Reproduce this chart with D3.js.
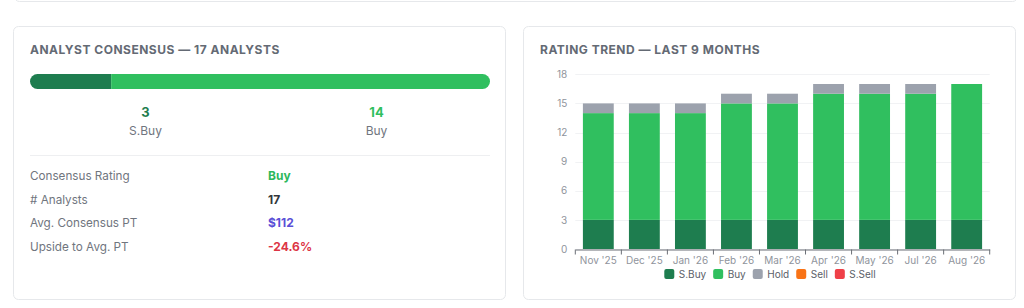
<!doctype html>
<html>
<head>
    <style>
        body { margin: 0; background: #ffffff; }
        svg text { font-family: Inter, "Noto Sans", sans-serif; }
        .card { fill: #ffffff; stroke: #e6e8eb; stroke-width: 1; }
        .title { font-size: 12px; font-weight: 700; fill: #646a74; letter-spacing: 0.5px; }
        .axis text { font-size: 10px; fill: #8f949c; }
        .axis path, .axis line { stroke: #6b6f76; }
    </style>
    <script src="https://d3js.org/d3.v7.min.js"></script>
</head>
<body>
<script>

    // consensus card
    var consensusLabels = ["S.Buy", "Buy"];
    var consensusCounts = [3, 14];
    var statLabels = ["Consensus Rating", "# Analysts", "Avg. Consensus PT", "Upside to Avg. PT"];
    var statValues = ["Buy", "17", "$112", "-24.6%"];

    // trend chart
    var months = ["Nov '25", "Dec '25", "Jan '26", "Feb '26", "Mar '26", "Apr '26", "May '26", "Jul '26", "Aug '26"];
    var ratingNames = ["S.Buy", "Buy", "Hold", "Sell", "S.Sell"];
    var sBuy  = [3, 3, 3, 3, 3, 3, 3, 3, 3];
    var buy   = [11, 11, 11, 12, 12, 13, 13, 13, 14];
    var hold  = [1, 1, 1, 1, 1, 1, 1, 1, 0];
    var sell  = [0, 0, 0, 0, 0, 0, 0, 0, 0];
    var sSell = [0, 0, 0, 0, 0, 0, 0, 0, 0];
    var yTicks = [0, 3, 6, 9, 12, 15, 18];

    var colors = {"S.Buy": "#1e7d4f", "Buy": "#30bf5f", "Hold": "#9ca2ad", "Sell": "#f97316", "S.Sell": "#ef4048"};

    var svg = d3.select("body").append("svg")
        .attr("width", 1024)
        .attr("height", 308);

    // cards
    svg.append("rect").attr("class", "card").attr("x", 14.5).attr("y", -20).attr("width", 1003).attr("height", 21.5).attr("rx", 5);
    svg.append("rect").attr("class", "card").attr("x", 13.5).attr("y", 26.5).attr("width", 492).attr("height", 273).attr("rx", 5);
    svg.append("rect").attr("class", "card").attr("x", 523.5).attr("y", 26.5).attr("width", 492).attr("height", 273).attr("rx", 5);

    // ---------- left card ----------
    var left = svg.append("g");
    left.append("text").attr("class", "title").attr("x", 30).attr("y", 54)
        .text("ANALYST CONSENSUS — 17 ANALYSTS");

    var total = d3.sum(consensusCounts);
    var bx = d3.scaleLinear().domain([0, total]).range([30, 490]);
    var starts = [0];
    consensusCounts.forEach(function (d, i) { starts.push(starts[i] + d); });

    left.append("clipPath").attr("id", "barclip")
        .append("rect").attr("x", bx(0)).attr("y", 74).attr("width", bx(total) - bx(0)).attr("height", 15).attr("rx", 7.5);

    left.append("g").attr("clip-path", "url(#barclip)")
        .selectAll("rect")
        .data(consensusCounts)
        .enter().append("rect")
        .attr("x", function (d, i) { return bx(starts[i]); })
        .attr("y", 74)
        .attr("width", function (d) { return bx(d) - bx(0); })
        .attr("height", 15)
        .attr("fill", function (d, i) { return colors[consensusLabels[i]]; });

    var colX = d3.scaleBand().domain(consensusLabels).range([30, 492]);
    var cols = left.selectAll(".col").data(consensusLabels).enter().append("g")
        .attr("transform", function (d) { return "translate(" + (colX(d) + colX.bandwidth() / 2) + ",0)"; });
    cols.append("text").attr("y", 117).attr("text-anchor", "middle")
        .style("font-size", "13px").style("font-weight", 700)
        .attr("fill", function (d) { return d === "S.Buy" ? "#1e7d4f" : "#30bf5f"; })
        .text(function (d, i) { return consensusCounts[i]; });
    cols.append("text").attr("y", 135).attr("text-anchor", "middle")
        .style("font-size", "12px").attr("fill", "#70757e")
        .text(function (d) { return d; });

    left.append("line").attr("x1", 30).attr("x2", 490).attr("y1", 155.5).attr("y2", 155.5)
        .attr("stroke", "#eeeff1");

    var valueColors = ["#2eb85c", "#33363b", "#5a4fd6", "#dc3545"];
    var rows = left.selectAll(".row").data(statLabels).enter().append("g")
        .attr("transform", function (d, i) { return "translate(0," + (180 + i * 23.5) + ")"; });
    rows.append("text").attr("x", 30).style("font-size", "11.7px").attr("fill", "#70757e")
        .text(function (d) { return d; });
    rows.append("text").attr("x", 268).style("font-size", "12px").style("font-weight", 700)
        .attr("fill", function (d, i) { return valueColors[i]; })
        .text(function (d, i) { return statValues[i]; });

    // ---------- right card ----------
    var right = svg.append("g");
    right.append("text").attr("class", "title").attr("x", 540).attr("y", 54)
        .text("RATING TREND — LAST 9 MONTHS");

    var x = d3.scaleBand().domain(months).range([575.3, 989.7]).paddingInner(0.33).paddingOuter(0.165);
    var y = d3.scaleLinear().domain([0, 18]).range([249, 74.3]);

    right.append("g").selectAll("line").data(yTicks).enter().append("line")
        .attr("x1", 575.3).attr("x2", 989.7)
        .attr("y1", function (d) { return Math.round(y(d)) + 0.5; })
        .attr("y2", function (d) { return Math.round(y(d)) + 0.5; })
        .attr("stroke", "#f1f2f4");

    var table = months.map(function (m, i) {
        return {month: m, "S.Buy": sBuy[i], "Buy": buy[i], "Hold": hold[i], "Sell": sell[i], "S.Sell": sSell[i]};
    });
    var stacked = d3.stack().keys(ratingNames)(table);

    right.append("g").selectAll("g").data(stacked).enter().append("g")
        .attr("fill", function (d) { return colors[d.key]; })
        .selectAll("rect")
        .data(function (d) { return d; })
        .enter().append("rect")
        .attr("x", function (d) { return x(d.data.month); })
        .attr("y", function (d) { return y(d[1]); })
        .attr("width", x.bandwidth())
        .attr("height", function (d) { return y(d[0]) - y(d[1]); });

    var yAxis = right.append("g").attr("class", "axis")
        .attr("transform", "translate(575.3,0)")
        .call(d3.axisLeft(y).tickValues(yTicks).tickSize(0).tickPadding(8));
    yAxis.select(".domain").remove();

    var xAxis = right.append("g").attr("class", "axis")
        .attr("transform", "translate(0,249.5)")
        .call(d3.axisBottom(x).tickSize(0).tickPadding(7).tickSizeOuter(0));
    xAxis.selectAll(".tick line").remove();

    // tick marks at category boundaries
    var edges = d3.range(months.length + 1).map(function (i) { return x.range()[0] + i * x.step(); });
    right.append("g").selectAll("line").data(edges).enter().append("line")
        .attr("x1", function (d) { return d; }).attr("x2", function (d) { return d; })
        .attr("y1", 249.5).attr("y2", 254.5)
        .attr("stroke", "#6b6f76");

    // legend
    var legend = right.append("g").attr("transform", "translate(0,274)");
    var items = legend.selectAll("g").data(ratingNames).enter().append("g");
    items.append("rect").attr("y", -5).attr("width", 10).attr("height", 10).attr("rx", 2)
        .attr("fill", function (d) { return colors[d]; });
    items.append("text").attr("x", 14.5).attr("dy", "0.35em")
        .style("font-size", "10px").attr("fill", "#5b6068")
        .text(function (d) { return d; });
    var pos = 0;
    items.each(function () {
        var w = d3.select(this).select("text").node().getComputedTextLength();
        d3.select(this).attr("data-x", pos);
        pos += 14.5 + w + 7;
    });
    var legendWidth = pos - 7;
    var legendStart = 770 - legendWidth / 2;
    items.attr("transform", function () {
        return "translate(" + (legendStart + (+d3.select(this).attr("data-x"))) + ",0)";
    });

</script>
</body>
</html>
